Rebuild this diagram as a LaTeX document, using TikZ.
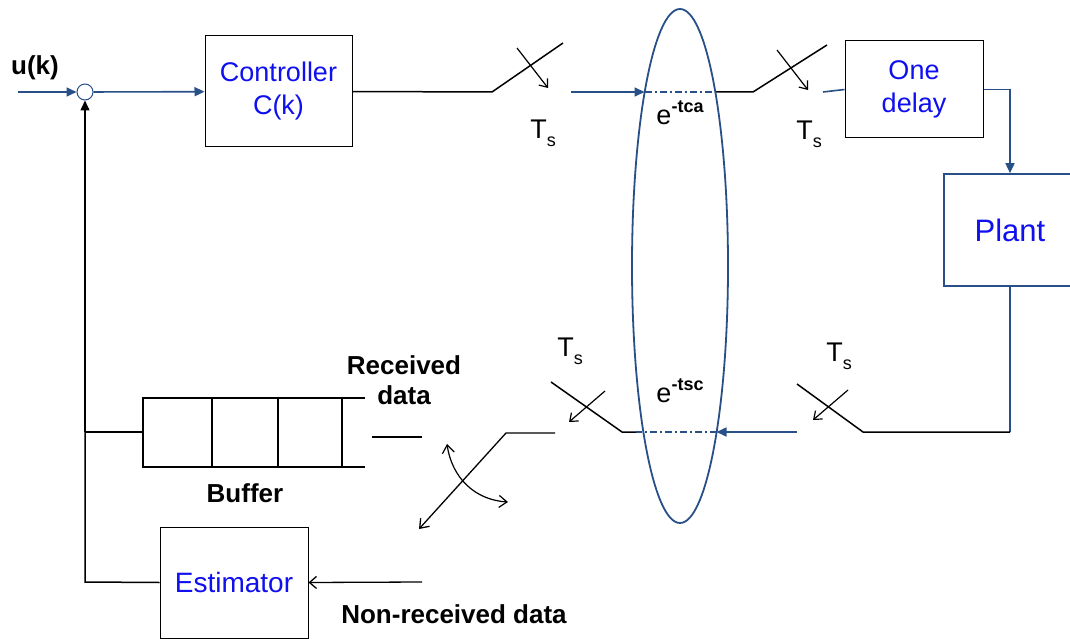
\documentclass[tikz,border=0pt]{standalone}
\usepackage{fontspec}
\setmainfont{Liberation Sans}
\usetikzlibrary{arrows.meta}
\definecolor{lblue}{RGB}{40,80,135}
\definecolor{tblue}{RGB}{15,15,240}
\begin{document}
\begin{tikzpicture}[x=1pt,y=-1pt,
  blk/.style={draw=black, line width=1pt, fill=white, align=center, text=tblue,
    font=\fontsize{27}{33}\selectfont, inner sep=0pt},
  bl/.style={draw=lblue, line width=1.6pt},
  bk/.style={draw=black, line width=1.5pt},
  barb/.style={-{Straight Barb[length=7pt,width=11pt]}, line width=1.2pt},
  tri/.style={-{Triangle[length=10pt,width=9pt]}},
  lbl/.style={font=\bfseries\fontsize{26}{30}\selectfont, inner sep=0pt, align=center},
  tsl/.style={font=\fontsize{27}{28}\selectfont, inner sep=0pt},
  dd/.style={draw=lblue, line width=1.4pt, dash pattern=on 7pt off 3pt on 2pt off 3pt}]
\useasboundingbox (0,0) rectangle (1070,639);
\clip (0,0) rectangle (1070,639);

% blocks
\node[blk, minimum width=147pt, minimum height=111pt] (ctrl) at (278.5,91.5) {Controller\\C(k)};
\node[blk, minimum width=138pt, minimum height=97pt] (delay) at (914,89.5) {One\\delay};
\node[blk, draw=lblue, line width=1.6pt, minimum width=132pt, minimum height=112pt,
  font=\fontsize{31}{33}\selectfont] (plant) at (1010,230) {Plant};
\node[blk, minimum width=148pt, minimum height=111pt, font=\fontsize{28}{33}\selectfont] (est) at (234,582.5) {Estimator};
\node[circle, draw=lblue, line width=1pt, minimum size=16pt, inner sep=0pt, fill=white] (sum) at (85,92) {};

% coordinates
\coordinate (in) at (18,92);
\coordinate (s1a) at (492,92);
\coordinate (s1b) at (563,43);
\coordinate (s1c) at (517,48);
\coordinate (s1d) at (548,88);
\coordinate (b1) at (571,92);
\coordinate (e1l) at (644.5,92);
\coordinate (e1r) at (715,92);
\coordinate (s2a) at (753,92);
\coordinate (s2b) at (827,45);
\coordinate (s2c) at (777,50);
\coordinate (s2d) at (808,90);
\coordinate (b2) at (823,92);
\coordinate (pc) at (1010,432);
\coordinate (s3a) at (863,432);
\coordinate (s3b) at (797,384);
\coordinate (s3c) at (848,390);
\coordinate (s3d) at (813,420);
\coordinate (b3) at (797,432);
\coordinate (e2r) at (716.5,432);
\coordinate (e2l) at (636,432);
\coordinate (s4a) at (622,432);
\coordinate (s4b) at (551,382);
\coordinate (s4c) at (605,391);
\coordinate (s4d) at (569,422);
\coordinate (s5a) at (555,433);
\coordinate (s5b) at (506,433);
\coordinate (s5c) at (419,529);
\coordinate (c1) at (447,444);
\coordinate (c2) at (508,502);
\coordinate (r1) at (372,437);
\coordinate (r2) at (422,437);
\coordinate (fb) at (85,432);
\coordinate (fe) at (85,582);
\coordinate (nr) at (422,582);

% forward path
\draw[bl, tri] (in) -- (sum);
\draw[bl, tri] (sum) -- (ctrl);
\draw[bk] (ctrl.east) -- (s1a) -- (s1b);
\draw[barb] (s1c) -- (s1d);
\draw[bl, tri] (b1) -- (e1l);
\draw[dd] (e1l) -- (e1r);
\draw[bk] (e1r) -- (s2a) -- (s2b);
\draw[barb] (s2c) -- (s2d);
\draw[bl] (b2) -- (delay.west);
\draw[bl, tri] (delay.east) -| (plant.north);

% return path
\draw[bl] (plant.south) -- (pc);
\draw[bk] (pc) -- (s3a) -- (s3b);
\draw[barb] (s3c) -- (s3d);
\draw[bl, tri] (b3) -- (e2r);
\draw[dd] (e2r) -- (e2l);
\draw[bk] (e2l) -- (s4a) -- (s4b);
\draw[barb] (s4c) -- (s4d);
\draw[line width=1.3pt, -{Straight Barb[length=8pt,width=12pt]}] (s5a) -- (s5b) -- (s5c);
\draw[line width=1.2pt, {Straight Barb[length=8pt,width=12pt]}-{Straight Barb[length=8pt,width=12pt]}]
  (c1) .. controls (452,478) and (475,500) .. (c2);
\draw[bk, line width=2pt] (r1) -- (r2);

% buffer
\draw[line width=2.5pt] (365,398) -- (143,398) -- (143,467) -- (365,467);
\foreach \xx in {212,278,342} \draw[line width=2.5pt] (\xx,398) -- (\xx,467);

% feedback
\draw[bk] (143,432) -- (fb);
\draw[bk] (est.west) -- (fe) -- (fb);
\draw[bk, -{Triangle[length=10pt,width=9pt]}] (fb) -- (sum.south);
\draw[line width=1.3pt, -{Straight Barb[length=7pt,width=12pt]}] (nr) -- (est.east);

% network ellipse
\draw[lblue, line width=1.8pt] (680,266) ellipse [x radius=48, y radius=257];

% labels
\node[lbl] (uk) at (35,68) {u(k)};
\node[tsl] (ts1) at (543,133) {T\raisebox{-0.3em}{\fontsize{18}{18}\selectfont s}};
\node[tsl] (ts2) at (809,134) {T\raisebox{-0.3em}{\fontsize{18}{18}\selectfont s}};
\node[tsl] (ts3) at (570,351) {T\raisebox{-0.3em}{\fontsize{18}{18}\selectfont s}};
\node[tsl] (ts4) at (839,356) {T\raisebox{-0.3em}{\fontsize{18}{18}\selectfont s}};
\node[tsl] (ea) at (680,113) {e\raisebox{0.45em}{\bfseries\fontsize{18}{18}\selectfont -tca}};
\node[tsl] (eb) at (680,391) {e\raisebox{0.45em}{\bfseries\fontsize{18}{18}\selectfont -tsc}};
\node[lbl] (rd) at (404,380) {Received\\data};
\node[lbl] (buf) at (245,493) {Buffer};
\node[lbl] (nrd) at (454,614) {Non-received data};
\end{tikzpicture}
\end{document}
